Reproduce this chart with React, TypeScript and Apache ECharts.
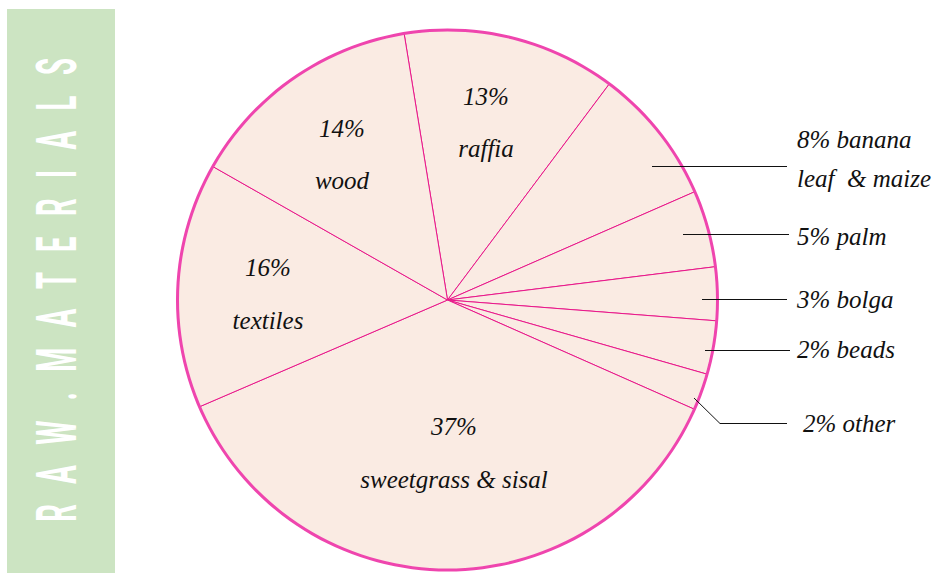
import React, { useEffect, useRef } from "react";
import * as echarts from "echarts";

// ---- data ----
const CATEGORIES = [
  "raffia",
  "banana leaf & maize",
  "palm",
  "bolga",
  "beads",
  "other",
  "sweetgrass & sisal",
  "textiles",
  "wood",
];
// slice shares as drawn in the picture (angles measured)
const SLICE_VALUES = [12.8, 8.2, 4.6, 3.2, 3.2, 2.2, 36.9, 14.7, 14.2];
// percentages printed on the chart
const PERCENT_LABELS = ["13%", "8%", "5%", "3%", "2%", "2%", "37%", "16%", "14%"];
const LABEL_NAMES = [
  "raffia",
  "banana\nleaf  & maize",
  "palm",
  "bolga",
  "beads",
  "other",
  "sweetgrass & sisal",
  "textiles",
  "wood",
];
const INSIDE = [true, false, false, false, false, false, true, true, true];
const TITLE = "RAW.MATERIALS";

// ---- layout / style ----
const CX = 447.5;
const CY = 300;
const R = 270;
type LP = { x: number; y: number; align: string; lh: number; line?: number[][] };
const LABEL_POS: LP[] = [
  { x: 486, y: 122, align: "center", lh: 52 },
  { x: 797, y: 159, align: "left", lh: 39, line: [[652, 166.5], [787, 166.5]] },
  { x: 797, y: 236, align: "left", lh: 39, line: [[683, 234.5], [789, 234.5]] },
  { x: 797, y: 299, align: "left", lh: 39, line: [[702, 299.5], [787, 299.5]] },
  { x: 797, y: 349, align: "left", lh: 39, line: [[705, 350.5], [790, 350.5]] },
  { x: 803, y: 423, align: "left", lh: 39, line: [[694, 398], [720, 423.5], [787, 423.5]] },
  { x: 454, y: 453, align: "center", lh: 53 },
  { x: 268, y: 294, align: "center", lh: 53 },
  { x: 342, y: 154, align: "center", lh: 52 },
];

export default function App() {
  const ref = useRef<HTMLDivElement>(null);
  useEffect(() => {
    if (!ref.current) return;
    const chart = echarts.init(ref.current, null, { renderer: "svg" });
    const spaced = TITLE.split("").join("   ");
    const data = CATEGORIES.map((name, i) => ({
      name,
      value: SLICE_VALUES[i],
      label: {
        position: INSIDE[i] ? "inside" : "outside",
        lineHeight: LABEL_POS[i].lh,
        formatter: INSIDE[i]
          ? `${PERCENT_LABELS[i]}\n${LABEL_NAMES[i]}`
          : `${PERCENT_LABELS[i]} ${LABEL_NAMES[i]}`,
      },
    }));
    const leaderLines = LABEL_POS.filter((p) => p.line).map((p) => ({
      type: "polyline",
      z: 100,
      silent: true,
      shape: { points: p.line },
      style: { stroke: "#111111", lineWidth: 1, fill: "none" },
    }));
    chart.setOption({
      animation: false,
      backgroundColor: "#ffffff",
      graphic: [
        {
          type: "rect",
          shape: { x: 7, y: 9, width: 108, height: 564 },
          style: { fill: "#cce4c2" },
          silent: true,
        },
        {
          type: "text",
          x: 58,
          y: 290,
          rotation: Math.PI / 2,
          scaleX: 0.5,
          style: {
            text: spaced,
            fill: "#ffffff",
            font: "bold 55px Roboto",
            textAlign: "center",
            textVerticalAlign: "middle",
          },
          silent: true,
        },
        ...leaderLines,
      ],
      series: [
        {
          type: "pie",
          center: [CX, CY],
          radius: [0, R],
          startAngle: 99.25,
          clockwise: true,
          silent: true,
          itemStyle: { color: "#faebe3", borderColor: "#e8178a", borderWidth: 1 },
          label: {
            show: true,
            color: "#111111",
            fontFamily: "'Liberation Serif', 'DejaVu Serif', serif",
            fontStyle: "italic",
            fontSize: 25,
          },
          labelLine: { show: false },
          labelLayout: (params: any) => {
            const p = LABEL_POS[params.dataIndex];
            return { x: p.x, y: p.y, align: p.align, verticalAlign: "middle" };
          },
          data,
        },
        {
          type: "pie",
          center: [CX, CY],
          radius: [R - 1.5, R + 1.5],
          silent: true,
          label: { show: false },
          labelLine: { show: false },
          itemStyle: { color: "#ef45ae", borderWidth: 0 },
          data: [{ value: 1, name: "outline" }],
        },
      ],
    });
    return () => chart.dispose();
  }, []);
  return (
    <div
      ref={ref}
      style={{ position: "absolute", left: 0, top: 0, width: 938, height: 573 }}
    />
  );
}
